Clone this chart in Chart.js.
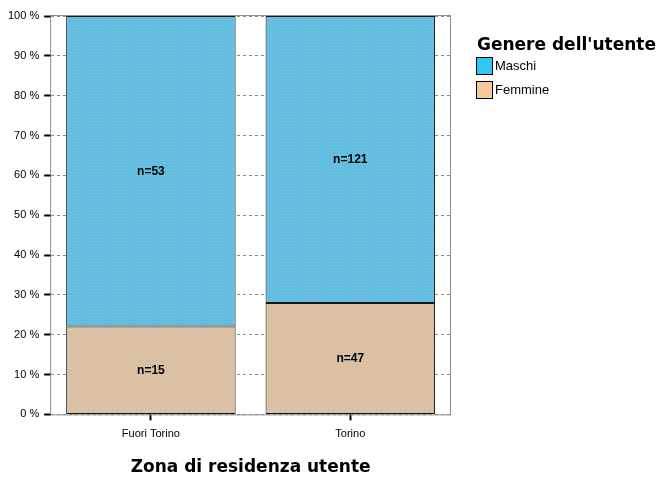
<!DOCTYPE html>
<html>
<head>
<meta charset="utf-8">
<script src="https://cdn.jsdelivr.net/npm/chart.js@4.4.1/dist/chart.umd.min.js"></script>
<style>
  body { margin: 0; background: #fff; }
  #wrap { width: 663px; height: 478px; }
</style>
</head>
<body>
<div id="wrap"><canvas id="barChart" width="663" height="478"></canvas></div>
<script>
const zone = ["Fuori Torino", "Torino"];
const maschiN = [53, 121];
const femmineN = [15, 47];
const yTicks = [0, 10, 20, 30, 40, 50, 60, 70, 80, 90, 100];

const totals = zone.map((z, i) => maschiN[i] + femmineN[i]);
const femminePct = femmineN.map((n, i) => (n / totals[i]) * 100);
const maschiPct = maschiN.map((n, i) => (n / totals[i]) * 100);

const legendItems = [
  { text: "Maschi", color: "#33c6f5" },
  { text: "Femmine", color: "#f9c79c" },
];

// small dotted texture like the spss fill
function texture(base, dot) {
  const c = document.createElement("canvas");
  c.width = 3;
  c.height = 3;
  const g = c.getContext("2d");
  g.fillStyle = base;
  g.fillRect(0, 0, 3, 3);
  g.fillStyle = dot;
  g.fillRect(1, 1, 1, 1);
  return g.createPattern(c, "repeat");
}

// frame around plot area + n= labels + legend
const extras = {
  id: "extras",
  beforeDatasetsDraw(chart) {
    const { ctx, chartArea: a } = chart;
    ctx.save();
    ctx.strokeStyle = "#8c8c8c";
    ctx.lineWidth = 1;
    ctx.strokeRect(a.left - 0.5, a.top - 0.5, a.right - a.left + 1, a.bottom - a.top + 1);
    ctx.restore();
  },
  afterDatasetsDraw(chart) {
    const { ctx } = chart;
    ctx.save();
    ctx.font = "bold 12px 'Liberation Sans', Arial, sans-serif";
    ctx.fillStyle = "#000";
    ctx.textAlign = "center";
    ctx.textBaseline = "middle";
    chart.data.datasets.forEach((ds, di) => {
      chart.getDatasetMeta(di).data.forEach((bar, i) => {
        const mid = (bar.y + bar.base) / 2;
        ctx.fillText("n=" + ds.counts[i], bar.x, mid);
      });
    });
    // legend
    ctx.textAlign = "left";
    ctx.textBaseline = "alphabetic";
    ctx.font = "bold 17px 'DejaVu Sans', Verdana, sans-serif";
    ctx.fillText("Genere dell'utente", 477, 50);
    ctx.font = "13px 'Liberation Sans', Arial, sans-serif";
    legendItems.forEach((it, k) => {
      const y = 58 + k * 24;
      ctx.fillStyle = it.color;
      ctx.fillRect(477, y, 15, 16);
      ctx.strokeStyle = "#000";
      ctx.lineWidth = 1;
      ctx.strokeRect(476.5, y - 0.5, 16, 17);
      ctx.fillStyle = "#000";
      ctx.textBaseline = "middle";
      ctx.fillText(it.text, 495, y + 8.5);
    });
    ctx.restore();
  },
};

const ctx = document.getElementById("barChart").getContext("2d");
new Chart(ctx, {
  type: "bar",
  data: {
    labels: zone,
    datasets: [
      {
        label: "Femmine",
        data: femminePct,
        counts: femmineN,
        backgroundColor: texture("#dcc0a8", "#cdbf8c"),
        borderColor: "#111",
        borderWidth: 1,
        borderSkipped: false,
        barPercentage: 0.85,
        categoryPercentage: 1,
      },
      {
        label: "Maschi",
        data: maschiPct,
        counts: maschiN,
        backgroundColor: texture("#62bde2", "#7cc8c8"),
        borderColor: "#111",
        borderWidth: 1,
        borderSkipped: false,
        barPercentage: 0.85,
        categoryPercentage: 1,
      },
    ],
  },
  options: {
    responsive: false,
    animation: false,
    layout: { padding: { left: 3, right: 213, top: 16, bottom: 0 } },
    plugins: {
      legend: { display: false },
      tooltip: { enabled: false },
    },
    scales: {
      x: {
        stacked: true,
        grid: {
          offset: false,
          drawOnChartArea: false,
          tickLength: 6,
          tickWidth: 2,
          tickColor: "#000",
        },
        border: { display: false },
        ticks: {
          color: "#000",
          padding: 7,
          font: { family: "'Liberation Sans', Arial, sans-serif", size: 11 },
        },
        title: {
          display: true,
          text: "Zona di residenza utente",
          color: "#000",
          font: { family: "'DejaVu Sans', Verdana, sans-serif", size: 17, weight: "bold" },
          padding: { top: 10, bottom: 0 },
        },
      },
      y: {
        stacked: true,
        min: 0,
        max: 100,
        afterBuildTicks(scale) {
          scale.ticks = yTicks.map((v) => ({ value: v }));
        },
        grid: {
          color: "#8c8c8c",
          tickLength: 7,
          tickWidth: 2,
          tickColor: "#000",
          tickBorderDash: [],
        },
        border: { display: false, dash: [3, 3] },
        ticks: {
          color: "#000",
          padding: 5,
          font: { family: "'Liberation Sans', Arial, sans-serif", size: 11 },
          callback: (v) => v + " %",
        },
      },
    },
  },
  plugins: [extras],
});
</script>
</body>
</html>
